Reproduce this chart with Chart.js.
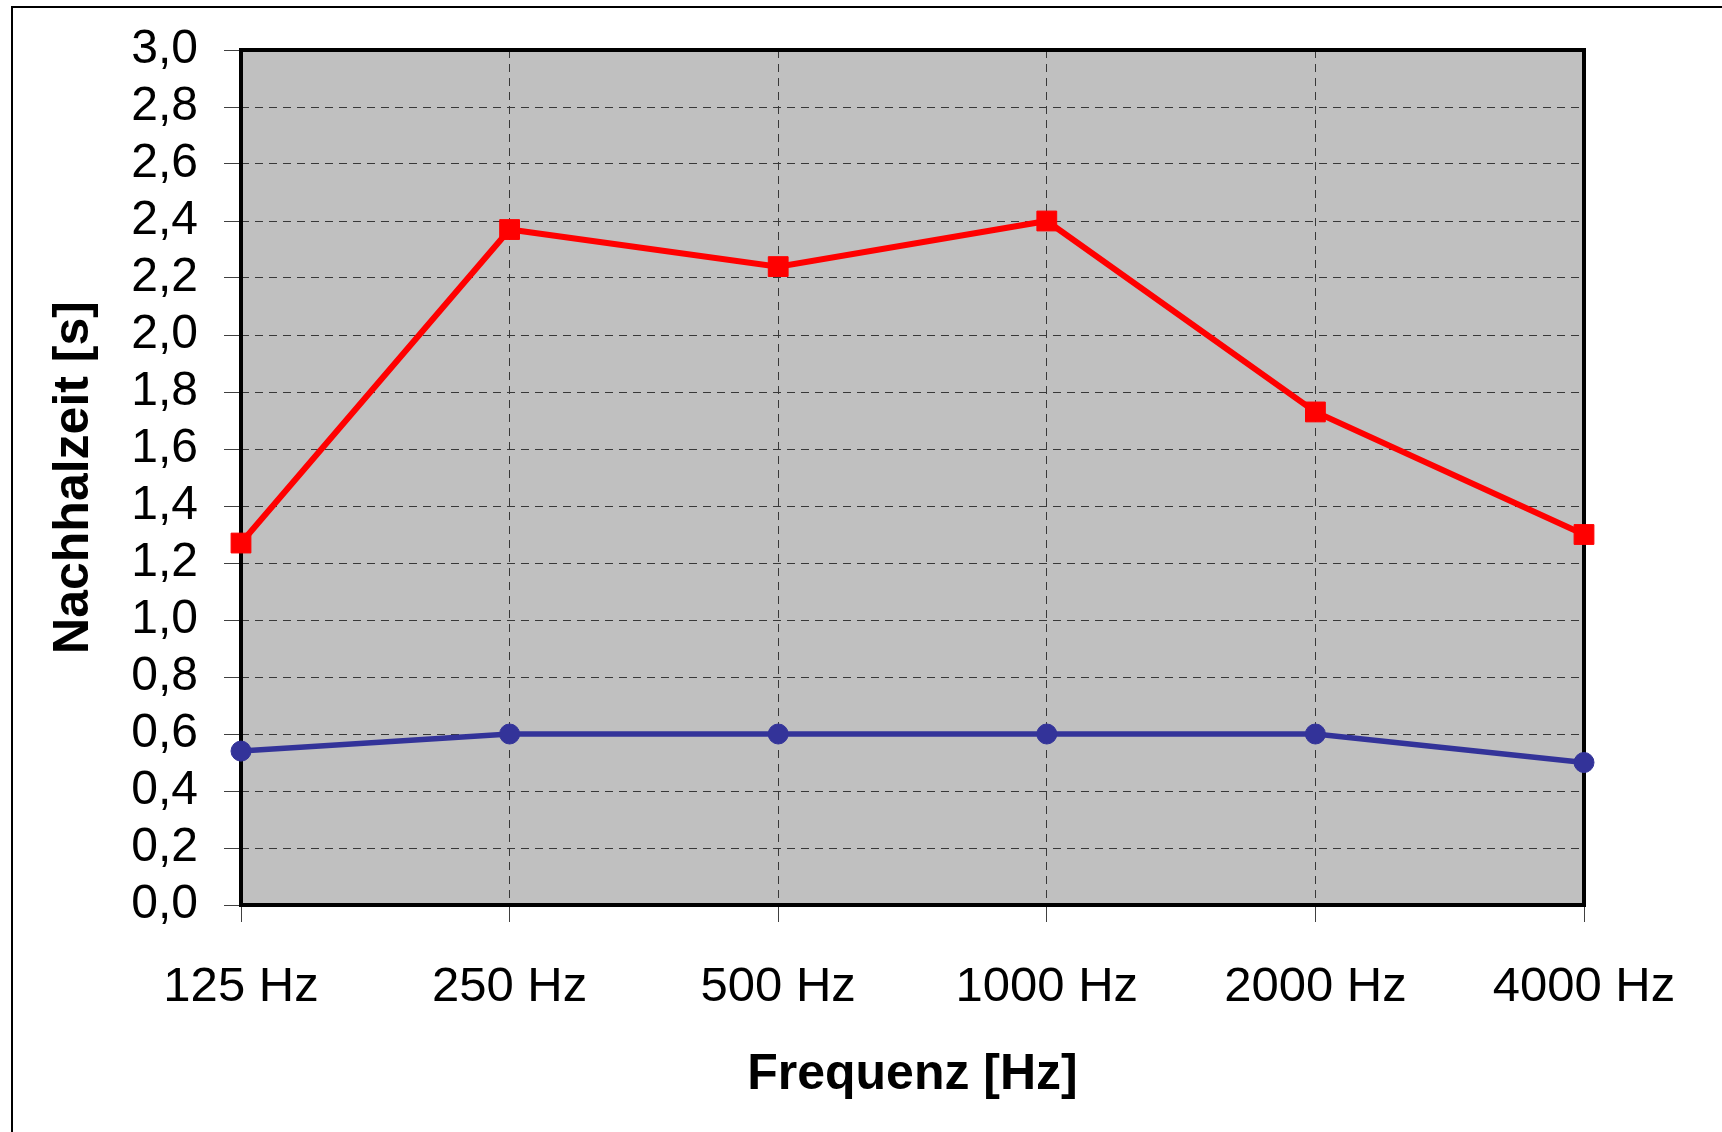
<!DOCTYPE html>
<html lang="de">
  <head>
    <meta charset="UTF-8" />
    <title>Nachhallzeit</title>
    <script src="https://cdn.jsdelivr.net/npm/chart.js"></script>
    <style>
      body {
        margin: 0;
        background: #ffffff;
      }
      #wrap {
        width: 1722px;
        height: 1132px;
      }
    </style>
  </head>
  <body>
    <div id="wrap">
      <canvas id="reverbChart" width="1722" height="1132"></canvas>
    </div>

    <script>
      // frequency bands (x axis)
      const frequencies = ["125 Hz", "250 Hz", "500 Hz", "1000 Hz", "2000 Hz", "4000 Hz"];

      // reverberation time in seconds
      const redSeries = [1.27, 2.37, 2.24, 2.4, 1.73, 1.3];
      const blueSeries = [0.54, 0.6, 0.6, 0.6, 0.6, 0.5];

      // y axis range
      const yMin = 0;
      const yMax = 3.0;
      const yStep = 0.2;

      const fontFamily = "'Liberation Sans', Arial, sans-serif";

      // grey plot area, black frame and the outer picture border
      const plotFrame = {
        id: "plotFrame",
        beforeDraw(chart) {
          const { ctx, chartArea } = chart;
          ctx.save();
          ctx.fillStyle = "#c0c0c0";
          ctx.fillRect(chartArea.left, chartArea.top, chartArea.right - chartArea.left, chartArea.bottom - chartArea.top);
          ctx.strokeStyle = "#000000";
          ctx.lineWidth = 2;
          ctx.beginPath();
          ctx.moveTo(12, 1132);
          ctx.lineTo(12, 7);
          ctx.lineTo(1722, 7);
          ctx.stroke();
          ctx.restore();
        },
        beforeDatasetsDraw(chart) {
          const { ctx, chartArea } = chart;
          ctx.save();
          ctx.strokeStyle = "#000000";
          ctx.lineWidth = 4;
          ctx.strokeRect(chartArea.left, chartArea.top, chartArea.right - chartArea.left, chartArea.bottom - chartArea.top);
          ctx.restore();
        },
      };

      new Chart(document.getElementById("reverbChart").getContext("2d"), {
        type: "line",
        data: {
          labels: frequencies,
          datasets: [
            {
              label: "Messung 1",
              data: redSeries,
              borderColor: "#ff0000",
              backgroundColor: "#ff0000",
              borderWidth: 6,
              pointStyle: "rect",
              pointRadius: 14,
              pointBorderWidth: 1,
              pointBorderColor: "#ff0000",
              pointBackgroundColor: "#ff0000",
              tension: 0,
              clip: false,
            },
            {
              label: "Messung 2",
              data: blueSeries,
              borderColor: "#333399",
              backgroundColor: "#333399",
              borderWidth: 5.5,
              pointStyle: "circle",
              pointRadius: 10,
              pointBorderWidth: 1,
              pointBorderColor: "#333399",
              pointBackgroundColor: "#333399",
              tension: 0,
              clip: false,
            },
          ],
        },
        options: {
          responsive: false,
          animation: false,
          devicePixelRatio: 1,
          layout: { padding: { left: 0, top: 50, right: 138, bottom: 0 } },
          plugins: {
            legend: { display: false },
            tooltip: { enabled: false },
          },
          scales: {
            x: {
              offset: false,
              grid: {
                color: "#383838",
                lineWidth: 1,
                tickLength: 17,
                tickColor: "#404040",
                tickWidth: 1,
                tickBorderDash: [],
              },
              border: { display: false, dash: [8, 6] },
              ticks: {
                color: "#000000",
                padding: 36,
                autoSkip: false,
                maxRotation: 0,
                font: { family: fontFamily, size: 49 },
              },
              title: {
                display: true,
                text: "Frequenz [Hz]",
                color: "#000000",
                padding: { top: 0, bottom: 27 },
                font: { family: fontFamily, size: 50, weight: "bold" },
              },
              afterFit(scale) {
                scale.height = 227;
              },
            },
            y: {
              min: yMin,
              max: yMax,
              grid: {
                color: "#383838",
                lineWidth: 1,
                tickLength: 17,
                tickColor: "#404040",
                tickWidth: 1,
                tickBorderDash: [],
              },
              border: { display: false, dash: [8, 6] },
              ticks: {
                stepSize: yStep,
                autoSkip: false,
                color: "#000000",
                padding: 26,
                font: { family: fontFamily, size: 48 },
                callback: (value) => value.toFixed(1).replace(".", ","),
              },
              title: {
                display: true,
                text: "Nachhalzeit [s]",
                color: "#000000",
                padding: { top: 44, bottom: 0 },
                font: { family: fontFamily, size: 50, weight: "bold" },
              },
              afterFit(scale) {
                scale.width = 241;
                scale.paddingTop = 0;
                scale.paddingBottom = 0;
              },
            },
          },
        },
        plugins: [plotFrame],
      });
    </script>
  </body>
</html>
